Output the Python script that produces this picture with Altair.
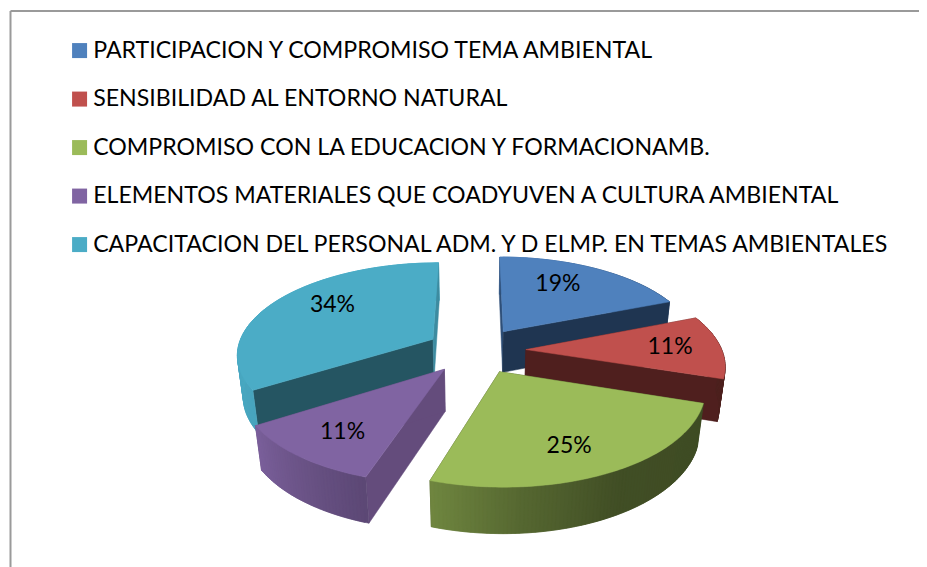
import math
import altair as alt
import pandas as pd

CATEGORIES = [
    "PARTICIPACION Y COMPROMISO TEMA AMBIENTAL",
    "SENSIBILIDAD AL ENTORNO NATURAL",
    "COMPROMISO CON LA EDUCACION Y FORMACIONAMB.",
    "ELEMENTOS MATERIALES QUE COADYUVEN A CULTURA AMBIENTAL",
    "CAPACITACION DEL PERSONAL ADM. Y D ELMP. EN TEMAS AMBIENTALES",
]
PERCENTS = [19, 11, 25, 11, 34]
COLORS = ["#4F81BD", "#C0504D", "#9BBB59", "#8064A2", "#4BACC6"]

# styling of the cut faces of each wedge
START_WALL = ["#2E4F78", "#4F1F1E", "#3F4A22", "#644C7C", "#255562"]
END_WALL = ["#1F3551", "#4F1F1E", "#3F4A22", "#644C7C", "#3D8BA0"]
DRAW_ORDER = [0, 4, 1, 3, 2]

# 3D view of the pie
W, H = 911, 559
CX, CY, RX, RY = 476.0, 350.3, 196.0, 91.0
PERSP, EXPLODE, DEPTH, DEPTH_PERSP = 0.15, 0.255, 42.5, 0.025
LABEL_R = [0.69, 0.74, 0.74, 0.74, 0.705]
LABEL_TURN = [-6.0, 0.0, 3.5, -1.0, 7.5]
SHADE = [(0, 1.0), (90, 0.40), (150, 0.42), (175, 0.55), (198, 0.72), (238, 0.96), (300, 1.0), (360, 1.0)]


def project(u, v, low=False):
    d = 1 + PERSP * v + (DEPTH_PERSP if low else 0)
    return CX + RX * u / d, CY - RY * v / d + (DEPTH / d if low else 0)


def shade(theta):
    for (a, fa), (b, fb) in zip(SHADE, SHADE[1:]):
        if a <= theta <= b:
            return fa + (fb - fa) * (theta - a) / (b - a)
    return 1.0


def scaled(hex_color, f):
    parts = [int(hex_color[i:i + 2], 16) for i in (1, 3, 5)]
    return "#" + "".join(f"{min(255, int(p * f)):02X}" for p in parts)


rows = []
pid = 0


def polygon(points, fill):
    global pid
    for i, (x, y) in enumerate(list(points) + [points[0]]):
        rows.append({"poly": pid, "i": i, "x": x, "y": y, "fill": fill})
    pid += 1


starts, acc = [], 0
for p in PERCENTS:
    starts.append(acc)
    acc += p

labels = []
for k in DRAW_ORDER:
    a0 = starts[k] * 3.6
    a1 = (starts[k] + PERCENTS[k]) * 3.6
    mid = math.radians((a0 + a1) / 2)
    ou, ov = EXPLODE * math.sin(mid), EXPLODE * math.cos(mid)
    n = max(3, int(a1 - a0))
    thetas = [a0 + (a1 - a0) * i / n for i in range(n + 1)]
    rim = [(ou + math.sin(math.radians(t)), ov + math.cos(math.radians(t))) for t in thetas]

    def strip(i):
        # each band runs on under the next one, so no seam shows between them
        j = min(i + 2, n)
        f = scaled(COLORS[k], shade((thetas[i] + thetas[i + 1]) / 2))
        polygon([project(*rim[i]), project(*rim[j]), project(*rim[j], True), project(*rim[i], True)], f)

    faces_back = [i for i in range(n) if math.cos(math.radians((thetas[i] + thetas[i + 1]) / 2)) > 0]
    faces_front = [i for i in range(n) if i not in faces_back]
    for i in faces_back:
        strip(i)
    polygon([project(ou, ov), project(*rim[0]), project(*rim[0], True), project(ou, ov, True)], START_WALL[k])
    polygon([project(ou, ov), project(*rim[-1]), project(*rim[-1], True), project(ou, ov, True)], END_WALL[k])
    for i in faces_front:
        strip(i)
    polygon([project(ou, ov)] + [project(*r) for r in rim], COLORS[k])

    lt = math.radians(math.degrees(mid) + LABEL_TURN[k])
    lx, ly = project(ou + LABEL_R[k] * math.sin(lt), ov + LABEL_R[k] * math.cos(lt))
    labels.append({"category": CATEGORIES[k], "label": f"{PERCENTS[k]}%", "x": lx, "y": ly})

df = pd.DataFrame(rows)
df_labels = pd.DataFrame(labels)

x_enc = alt.X("x:Q", scale=alt.Scale(domain=[8, 8 + W], nice=False, zero=False), axis=None)
y_enc = alt.Y("y:Q", scale=alt.Scale(domain=[8 + H, 8], nice=False, zero=False), axis=None)

frame_top = alt.Chart(pd.DataFrame({"a": [0]})).mark_rule(color="#9A9A9A", strokeWidth=2).encode(
    x=alt.value(2.5), x2=alt.value(W), y=alt.value(3)
)
frame_left = alt.Chart(pd.DataFrame({"a": [0]})).mark_rule(color="#9A9A9A", strokeWidth=2).encode(
    x=alt.value(2.5), y=alt.value(3), y2=alt.value(H)
)

faces = alt.Chart(df).mark_line(strokeWidth=0.5, interpolate="linear").encode(
    x=x_enc,
    y=y_enc,
    order="i:Q",
    detail="poly:N",
    fill=alt.Fill("fill:N", scale=None),
    stroke=alt.Stroke("fill:N", scale=None),
)

legend_layer = alt.Chart(df_labels).mark_point(filled=True, size=0).encode(
    x=x_enc,
    y=y_enc,
    color=alt.Color(
        "category:N",
        scale=alt.Scale(domain=CATEGORIES, range=COLORS),
        sort=CATEGORIES,
        legend=alt.Legend(
            orient="none",
            legendX=60,
            legendY=31,
            title=None,
            symbolType="square",
            symbolSize=225,
            symbolStrokeWidth=0,
            symbolOpacity=1,
            labelFont="Lato",
            labelFontSize=23.15,
            labelColor="#000000",
            labelLimit=0,
            labelOffset=2,
            rowPadding=24.5,
            padding=0,
            offset=0,
        ),
    ),
)

text = alt.Chart(df_labels).mark_text(font="Lato", fontSize=23, color="#000000").encode(
    x=x_enc, y=y_enc, text="label:N"
)

chart = (
    alt.layer(frame_top, frame_left, faces, legend_layer, text)
    .properties(width=W, height=H, padding=0, autosize=alt.AutoSizeParams(type="none"), background="white")
    .configure_view(stroke=None)
)

chart.save("out.html", embed_options={"renderer": "svg", "actions": False})
